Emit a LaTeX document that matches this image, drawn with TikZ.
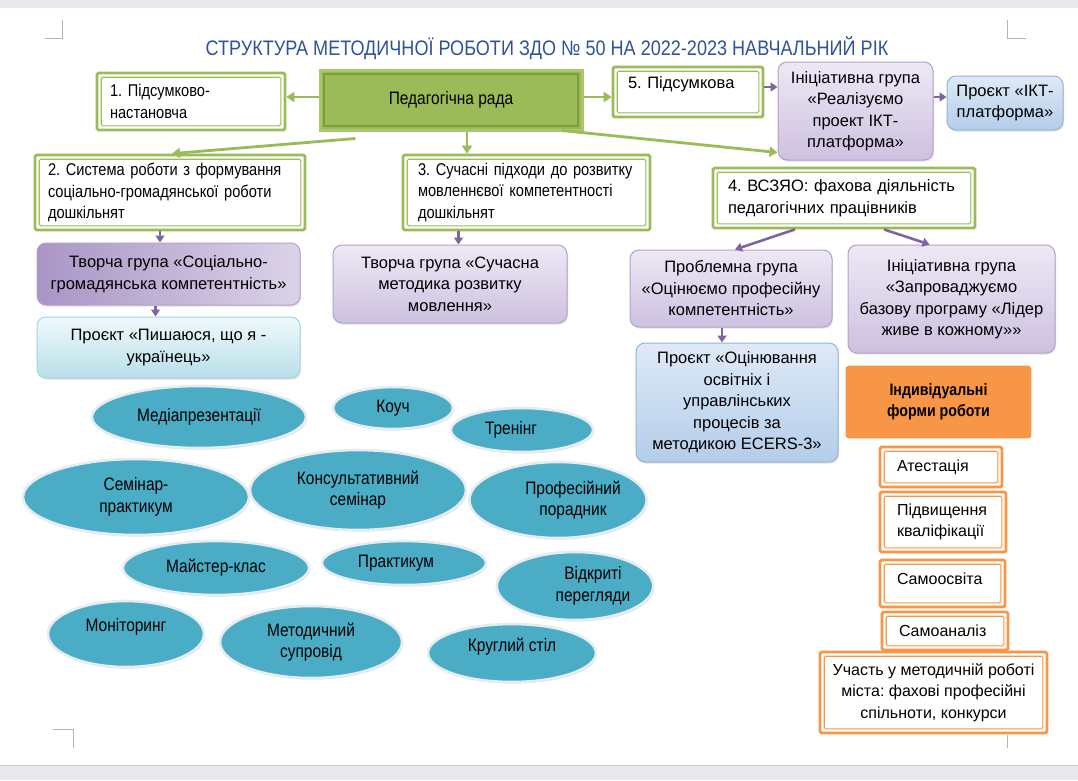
\documentclass[tikz,border=0pt]{standalone}
\usepackage{fontspec}
\setmainfont{Liberation Sans}
\newfontfamily\condf[FakeStretch=0.86]{Liberation Sans}
\usetikzlibrary{shadows,arrows.meta,shapes.geometric,calc}
\definecolor{gr}{HTML}{9BBB59}
\definecolor{grl}{HTML}{A9C76B}
\definecolor{grd}{HTML}{7E9E3E}
\definecolor{pu}{HTML}{8064A2}
\definecolor{pub}{HTML}{B3A2C7}
\definecolor{puA}{HTML}{EEE8F5}
\definecolor{puB}{HTML}{CDC1E0}
\definecolor{puC}{HTML}{A995C6}
\definecolor{puD}{HTML}{DCD3E8}
\definecolor{blA}{HTML}{DEEAF7}
\definecolor{blB}{HTML}{B4CDE9}
\definecolor{blb}{HTML}{95B3D7}
\definecolor{cyA}{HTML}{EFF9FC}
\definecolor{cyB}{HTML}{B9DFE9}
\definecolor{cyb}{HTML}{A3D4E1}
\definecolor{orc}{HTML}{F79646}
\definecolor{ttl}{HTML}{2F5496}
\definecolor{ell}{HTML}{4BACC6}
\definecolor{ellb}{HTML}{E6ECEF}
\definecolor{band}{HTML}{E8E9EC}
\definecolor{mrk}{HTML}{B4B4B4}
\newcommand{\nb}[1]{\mbox{#1}}
\frenchspacing
\begin{document}
\frenchspacing
\begin{tikzpicture}[x=1pt,y=-1pt,
  txt/.style={font=\frenchspacing\fontsize{16.5}{21.5}\selectfont},
  otxt/.style={font=\frenchspacing\fontsize{16}{21.5}\selectfont},
  ctxt/.style={font=\frenchspacing\condf\fontsize{17}{21.5}\selectfont},
  etxt/.style={font=\frenchspacing\condf\fontsize{18}{21.5}\selectfont},
  gbox/.style={draw=gr, line width=2.8pt, rounded corners=1.5pt, fill=white, inner sep=0pt,
     path picture={\draw[gr,line width=1.1pt] ([shift={(4.2pt,-4.2pt)}]path picture bounding box.north west) rectangle ([shift={(-4.2pt,4.2pt)}]path picture bounding box.south east);}},
  obox/.style={draw=orc, line width=2.8pt, rounded corners=1.5pt, fill=white, inner sep=0pt, otxt,
     path picture={\draw[orc,line width=1.1pt] ([shift={(4.2pt,-4.2pt)}]path picture bounding box.north west) rectangle ([shift={(-4.2pt,4.2pt)}]path picture bounding box.south east);}},
  pbox/.style={fill=gr, draw=grl, line width=3pt, inner sep=0pt, font=\condf\fontsize{18}{21.5}\selectfont,
     path picture={\draw[grd,line width=1.2pt] ([shift={(4pt,-4pt)}]path picture bounding box.north west) rectangle ([shift={(-4pt,4pt)}]path picture bounding box.south east);}},
  rbox/.style={rounded corners=9pt, line width=1pt, inner sep=0pt, align=center, txt,
     drop shadow={opacity=0.22, shadow xshift=1pt, shadow yshift=-1.6pt}},
  pubox/.style={rbox, top color=puA, bottom color=puB, draw=pub},
  pudark/.style={rbox, left color=puC, right color=puD, draw=pub},
  blbox/.style={rbox, top color=blA, bottom color=blB, draw=blb},
  cybox/.style={rbox, top color=cyA, bottom color=cyB, draw=cyb},
  ov/.style={ellipse, fill=ell, draw=ellb, line width=2.6pt, inner sep=0pt, align=center, etxt,
     drop shadow={fill=black!40, opacity=0.3, shadow xshift=1pt, shadow yshift=-1.6pt}},
  garr/.style={draw=gr, line width=2.8pt, -{Triangle[width=10pt,length=8pt]}},
  parr/.style={draw=pu, line width=2.6pt, -{Triangle[width=9pt,length=7pt]}},
  mk/.style={draw=mrk, line width=0.8pt}
]
\useasboundingbox (0,0) rectangle (1078,780);
\fill[white] (0,0) rectangle (1078,780);
\fill[band] (0,0) rectangle (1078,8);
\fill[band] (0,765) rectangle (1078,780);
\draw[black!22, line width=1pt] (0,765.5) -- (1078,765.5);
% corner marks
\draw[mk] (45,38) -- (62,38) -- (62,20);
\draw[mk] (1007,20) -- (1007,38) -- (1026,38);
\draw[mk] (53,729) -- (73,729) -- (73,748);
\draw[mk] (1007,735) -- (1007,748);

% title
\node[font=\condf\fontsize{21}{24}\selectfont, text=ttl, inner sep=0pt] (title) at (547,48)
  {СТРУКТУРА МЕТОДИЧНОЇ РОБОТИ ЗДО № 50 НА 2022-2023 НАВЧАЛЬНИЙ РІК};

% top row
\node[gbox, ctxt, minimum width=188pt, minimum height=57pt, text width=162pt, align=left] (b1) at (191,101.5)
  {\nb{1. Підсумково-}\\\nb{настановча}};
\node[pbox, minimum width=262pt, minimum height=60pt] (pr) at (451,100) {Педагогічна рада};
\node[gbox, txt, minimum width=150pt, minimum height=50pt, text width=120pt, align=left, text depth=19pt] (b5) at (688,92)
  {\nb{5. Підсумкова}};
\node[pubox, minimum width=155pt, minimum height=98pt] (ig1) at (855.5,111)
  {Ініціативна група\\«Реалізуємо\\проект ІКТ-\\платформа»};
\node[blbox, minimum width=116pt, minimum height=54pt] (pikt) at (1005,103)
  {Проєкт «ІКТ-\\платформа»};

% second row
\node[gbox, ctxt, minimum width=270pt, minimum height=75pt, text width=244pt, align=left] (b2) at (170,192.5)
  {\nb{2. Система роботи з формування}\\\nb{соціально-громадянської роботи}\\\nb{дошкільнят}};
\node[gbox, ctxt, minimum width=247pt, minimum height=75pt, text width=217pt, align=left] (b3) at (526.5,192.5)
  {\nb{3. Сучасні підходи до розвитку}\\\nb{мовленнєвої компетентності}\\\nb{дошкільнят}};
\node[gbox, txt, minimum width=262pt, minimum height=60pt, text width=232pt, align=left] (b4) at (844,198)
  {\nb{4. ВСЗЯО: фахова діяльність}\\\nb{педагогічних працівників}};

% third row
\node[pudark, minimum width=263pt, minimum height=62pt] (tg1) at (168.5,274)
  {Творча група «Соціально-\\громадянська компетентність»};
\node[cybox, minimum width=263pt, minimum height=61pt] (pp) at (168.5,347.5)
  {\nb{Проєкт «Пишаюся, що я -}\\\nb{українець»}};
\node[pubox, minimum width=234pt, minimum height=78pt] (tg2) at (450,284)
  {Творча група «Сучасна\\методика розвитку\\мовлення»};
\node[pubox, minimum width=202pt, minimum height=77pt] (pg) at (731,288.5)
  {Проблемна група\\«Оцінюємо професійну\\компетентність»};
\node[pubox, minimum width=207pt, minimum height=108pt] (ig2) at (951.5,299)
  {Ініціативна група\\«Запроваджуємо\\базову програму «Лідер\\живе в кожному»»};
\node[blbox, minimum width=202pt, minimum height=119pt] (po) at (737,402.5)
  {Проєкт «Оцінювання\\освітніх і\\управлінських\\процесів за\\методикою ECERS-3»};

% individual forms
\node[obox, fill=orc, minimum width=183pt, minimum height=70pt, align=center, font=\condf\bfseries\fontsize{16.5}{21}\selectfont] (ind) at (938.5,402)
  {Індивідуальні\\форми роботи};
\node[obox, minimum width=122pt, minimum height=40pt, text width=88pt, align=left] (at) at (941,467) {\nb{Атестація}};
\node[obox, minimum width=126pt, minimum height=60pt, text width=92pt, align=left] (pk) at (943,522) {\nb{Підвищення}\\\nb{кваліфікації}};
\node[obox, minimum width=125pt, minimum height=47pt, text width=91pt, align=left, text depth=9pt] (so) at (942.5,583.5) {\nb{Самоосвіта}};
\node[obox, minimum width=126pt, minimum height=38pt, text width=92pt, align=left] (sa) at (945,631) {\nb{Самоаналіз}};
\node[obox, minimum width=227pt, minimum height=81pt, align=center] (uch) at (933.5,692.5)
  {Участь у методичній роботі\\міста: фахові професійні\\спільноти, конкурси};

% ellipses
\node[ov, minimum width=214pt, minimum height=62pt] (e1) at (199,417) {Медіапрезентації};
\node[ov, minimum width=120pt, minimum height=42pt] (e2) at (393,408) {Коуч};
\node[ov, minimum width=142pt, minimum height=44pt] (e3) at (522,430) {Тренінг\hspace*{22pt}};
\node[ov, minimum width=226pt, minimum height=76pt] (e4) at (136,497) {Семінар-\\практикум};
\node[ov, minimum width=216pt, minimum height=80pt] (e5) at (358,490) {Консультативний\\семінар};
\node[ov, minimum width=162pt, minimum height=76pt] (e6) at (558,500) {\hspace*{30pt}Професійний\\\hspace*{30pt}порадник};
\node[ov, minimum width=186pt, minimum height=54pt] (e7) at (216,568) {Майстер-клас};
\node[ov, minimum width=164pt, minimum height=44pt] (e8) at (404,563) {Практикум\hspace*{16pt}};
\node[ov, minimum width=132pt, minimum height=68pt] (e9) at (575,586) {\hspace*{36pt}Відкриті\\\hspace*{36pt}перегляди};
\node[ov, minimum width=156pt, minimum height=66pt, text depth=19pt] (e10) at (126,634) {Моніторинг};
\node[ov, minimum width=182pt, minimum height=72pt] (e11) at (311,642) {Методичний\\супровід};
\node[ov, minimum width=168pt, minimum height=58pt, text depth=17pt] (e12) at (512,653) {Круглий стіл};

% arrows green
\draw[garr] ([yshift=3pt]pr.west) -- ([yshift=3pt]pr.west -| b1.east);
\draw[garr] ([yshift=3pt]pr.east) -- ([yshift=3pt]pr.east -| b5.west);
\draw[garr] ([xshift=37pt,yshift=-7pt]pr.south west) -- ([xshift=2pt]b2.north);
\draw[garr] ([xshift=16pt]pr.south) -- ([xshift=16pt]pr.south |- b3.north);
\draw[garr] ([xshift=-22pt,yshift=1pt]pr.south east) -- ([yshift=8pt]ig1.south west);
% arrows purple
\draw[parr] ([yshift=5pt]b5.east) -- ([yshift=5pt]b5.east -| ig1.west);
\draw[parr] ([yshift=6pt]pikt.west -| ig1.east) -- ([yshift=6pt]pikt.west);
\draw[parr] ([xshift=-10pt]b2.south) -- ([xshift=-10pt]b2.south |- tg1.north);
\draw[parr] ([xshift=-68pt]b3.south) -- ([xshift=-68pt]b3.south |- tg2.north);
\draw[parr] ([xshift=-49pt]b4.south) -- ([xshift=4pt]pg.north);
\draw[parr] ([xshift=40pt]b4.south) -- ([xshift=-22pt]ig2.north);
\draw[parr] ([xshift=-13pt]tg1.south) -- ([xshift=-13pt]tg1.south |- pp.north);
\draw[parr] ([xshift=-9pt]pg.south) -- ([xshift=-9pt]pg.south |- po.north);
\end{tikzpicture}
\end{document}
